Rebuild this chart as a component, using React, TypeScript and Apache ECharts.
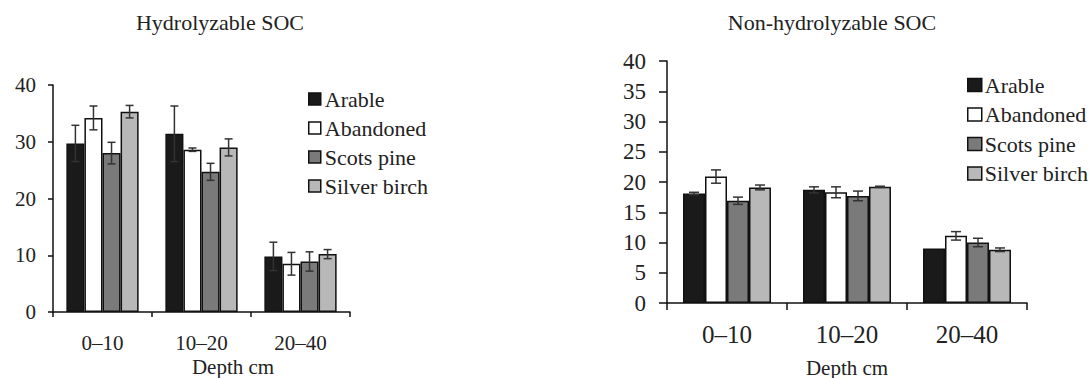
import React, { useEffect, useRef } from "react";
import * as echarts from "echarts";

const categories = ["0–10", "10–20", "20–40"];
const seriesNames = ["Arable", "Abandoned", "Scots pine", "Silver birch"];
const colors = ["#1a1a1a", "#ffffff", "#7a7a7a", "#b8b8b8"];

// Hydrolyzable SOC
const hydArable = [29.7, 31.4, 9.8];
const hydAbandoned = [34.2, 28.6, 8.5];
const hydScots = [28.0, 24.7, 8.9];
const hydBirch = [35.3, 29.0, 10.2];
const hydArableErr = [3.2, 4.9, 2.5];
const hydAbandonedErr = [2.1, 0.3, 2.0];
const hydScotsErr = [1.9, 1.5, 1.7];
const hydBirchErr = [1.1, 1.5, 0.8];

// Non-hydrolyzable SOC
const nonArable = [18.1, 18.7, 9.0];
const nonAbandoned = [20.9, 18.3, 11.1];
const nonScots = [16.9, 17.7, 10.0];
const nonBirch = [19.1, 19.2, 8.8];
const nonArableErr = [0.2, 0.5, 0];
const nonAbandonedErr = [1.1, 0.9, 0.7];
const nonScotsErr = [0.6, 0.8, 0.7];
const nonBirchErr = [0.4, 0.1, 0.3];

const leftTicks = { min: 0, max: 40, interval: 10 };
const rightTicks = { min: 0, max: 40, interval: 5 };

const FONT = "Liberation Serif";
const TXT = "#222";

export default function App() {
  const ref = useRef<HTMLDivElement>(null);
  useEffect(() => {
    if (!ref.current) return;
    const chart = echarts.init(ref.current, undefined, { renderer: "svg" });

    const leftGap = 0.27;
    const rightGap = 0.267;

    const hydVals = [hydArable, hydAbandoned, hydScots, hydBirch];
    const hydErrs = [hydArableErr, hydAbandonedErr, hydScotsErr, hydBirchErr];
    const nonVals = [nonArable, nonAbandoned, nonScots, nonBirch];
    const nonErrs = [nonArableErr, nonAbandonedErr, nonScotsErr, nonBirchErr];

    const barSeries = (vals: number[][], axis: number, gap: number) =>
      vals.map((v, i) => ({
        type: "bar",
        name: seriesNames[i],
        xAxisIndex: axis,
        yAxisIndex: axis,
        data: v,
        barGap: "0%",
        barCategoryGap: gap * 100 + "%",
        itemStyle: { color: colors[i], borderColor: "#111", borderWidth: 1.5 },
      }));

    const errSeries = (vals: number[][], errs: number[][], axis: number, gap: number, cap: number) =>
      vals.map((v, idx) => ({
        type: "custom",
        name: seriesNames[idx] + " error " + axis,
        xAxisIndex: axis,
        yAxisIndex: axis,
        z: 10,
        data: v.map((val, i) => [i, val, errs[idx][i]]),
        renderItem: (params: any, api: any) => {
          const ci = api.value(0);
          const val = api.value(1);
          const e = api.value(2);
          if (!e) return null;
          const band = api.size([1, 0])[0];
          const group = band * (1 - gap);
          const bw = group / 4;
          const cx = api.coord([ci, val])[0] - group / 2 + (idx + 0.5) * bw;
          const top = api.coord([ci, val + e])[1];
          const bot = api.coord([ci, val - e])[1];
          const style = { stroke: "#333", lineWidth: 1.5 };
          return {
            type: "group",
            children: [
              { type: "line", shape: { x1: cx, y1: top, x2: cx, y2: bot }, style },
              { type: "line", shape: { x1: cx - cap, y1: top, x2: cx + cap, y2: top }, style },
              { type: "line", shape: { x1: cx - cap, y1: bot, x2: cx + cap, y2: bot }, style },
            ],
          };
        },
      }));

    const axisLine = { show: true, lineStyle: { color: "#111", width: 1.5 } };

    chart.setOption({
      animation: false,
      textStyle: { fontFamily: FONT },
      title: [
        {
          text: "Hydrolyzable SOC",
          left: 220,
          top: 11,
          padding: 0,
          textAlign: "center",
          textStyle: { fontFamily: FONT, fontSize: 22, fontWeight: "normal", color: TXT },
        },
        {
          text: "Non-hydrolyzable SOC",
          left: 832,
          top: 11,
          padding: 0,
          textAlign: "center",
          textStyle: { fontFamily: FONT, fontSize: 22, fontWeight: "normal", color: TXT },
        },
      ],
      graphic: [
        {
          type: "text",
          x: 233,
          y: 367,
          style: {
            text: "Depth cm",
            fontFamily: FONT,
            fontSize: 21,
            fill: TXT,
            align: "center",
            verticalAlign: "middle",
          },
        },
      ],
      legend: [
        {
          orient: "vertical",
          left: 308,
          top: 88,
          padding: 0,
          data: seriesNames,
          icon: "rect",
          itemWidth: 12,
          itemHeight: 12,
          itemGap: 7,
          selectedMode: false,
          itemStyle: { borderColor: "#111", borderWidth: 1.5 },
          textStyle: { fontFamily: FONT, fontSize: 22, color: TXT, padding: [0, 0, 0, -1] },
        },
        {
          orient: "vertical",
          left: 967,
          top: 74,
          padding: 0,
          data: seriesNames,
          icon: "rect",
          itemWidth: 14,
          itemHeight: 13,
          itemGap: 7.5,
          selectedMode: false,
          itemStyle: { borderColor: "#111", borderWidth: 1.5 },
          textStyle: { fontFamily: FONT, fontSize: 22, color: TXT, padding: [0, 0, 0, -2] },
        },
      ],
      grid: [
        { left: 53, top: 85, width: 297, height: 227, outerBoundsMode: "none", containLabel: false },
        { left: 667, top: 61, width: 360, height: 242, outerBoundsMode: "none", containLabel: false },
      ],
      xAxis: [
        {
          type: "category",
          gridIndex: 0,
          data: categories,
          axisLine,
          axisTick: { show: true, length: 5, lineStyle: { color: "#111", width: 1.5 } },
          axisLabel: { fontFamily: FONT, fontSize: 21, color: TXT, margin: 20 },
        },
        {
          type: "category",
          gridIndex: 1,
          data: categories,
          axisLine,
          axisTick: { show: true, length: 7, lineStyle: { color: "#111", width: 1.5 } },
          axisLabel: { fontFamily: FONT, fontSize: 25, color: TXT, margin: 19 },
          name: "Depth cm",
          nameLocation: "middle",
          nameGap: 54,
          nameTextStyle: { fontFamily: FONT, fontSize: 21, color: TXT },
        },
      ],
      yAxis: [
        {
          type: "value",
          gridIndex: 0,
          ...leftTicks,
          axisLine,
          axisTick: { show: true, length: 5, lineStyle: { color: "#111", width: 1.5 } },
          splitLine: { show: false },
          axisLabel: { fontFamily: FONT, fontSize: 21, color: TXT, margin: 17 },
        },
        {
          type: "value",
          gridIndex: 1,
          ...rightTicks,
          axisLine,
          axisTick: { show: true, length: 8, lineStyle: { color: "#111", width: 1.5 } },
          splitLine: { show: false },
          axisLabel: { fontFamily: FONT, fontSize: 23, color: TXT, margin: 21 },
        },
      ],
      series: [
        ...barSeries(hydVals, 0, leftGap),
        ...barSeries(nonVals, 1, rightGap),
        ...errSeries(hydVals, hydErrs, 0, leftGap, 4),
        ...errSeries(nonVals, nonErrs, 1, rightGap, 5),
      ],
    });
    return () => chart.dispose();
  }, []);
  return (
    <div
      ref={ref}
      style={{ position: "fixed", left: 0, top: 0, width: 1091, height: 378, background: "#fff" }}
    />
  );
}
